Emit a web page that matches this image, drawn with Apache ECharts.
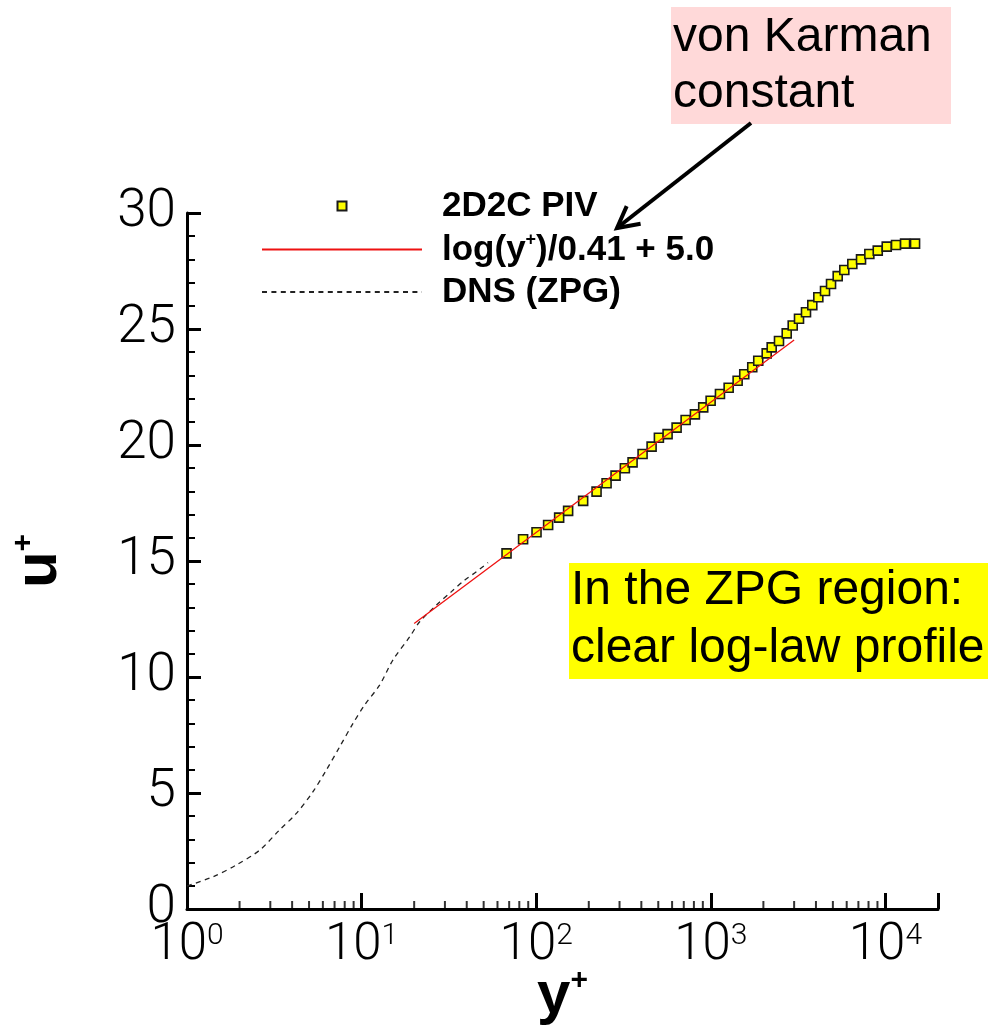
<!DOCTYPE html>
<html>
<head>
<meta charset="utf-8">
<script src="https://cdn.jsdelivr.net/npm/echarts@6/dist/echarts.min.js"></script>
<style>
  html, body { margin: 0; padding: 0; background: #ffffff; }
  #chart { width: 988px; height: 1031px; }
</style>
</head>
<body>
<div id="chart"></div>
<script>
// 2D2C PIV mean velocity profile in the zero-pressure-gradient region
const pivYPlus = [67.6, 84.1, 100.4, 117, 135.3, 152.3, 185.7, 221.6, 252.9, 284.7,
  321.9, 356.3, 406.6, 457.9, 504.2, 565.4, 636.8, 717.2, 810.7, 904.6,
  997.4, 1128, 1265, 1424, 1554, 1727, 1869, 2089, 2231, 2457,
  2720, 2944, 3199, 3508, 3812, 4127, 4508, 4880, 5328, 5814,
  6462, 7248, 8088, 9036, 10172, 11501, 12953, 14779];
const pivUPlus = [15.33, 15.94, 16.24, 16.55, 16.87, 17.16, 17.59, 17.99, 18.35, 18.68,
  19.0, 19.25, 19.61, 19.93, 20.31, 20.47, 20.75, 21.08, 21.32, 21.62,
  21.91, 22.2, 22.47, 22.77, 23.05, 23.35, 23.63, 23.95, 24.21, 24.48,
  24.81, 25.15, 25.44, 25.72, 26.03, 26.37, 26.64, 26.94, 27.28, 27.54,
  27.8, 28.0, 28.23, 28.38, 28.55, 28.62, 28.68, 28.68];

// DNS reference profile (ZPG)
const dnsYPlus = [1, 1.41, 1.92, 2.61, 3.39, 4.23, 5.27, 6.28, 7.5, 8.93,
  10.4, 12.7, 15.1, 18.9, 21.5, 26.8, 32.7, 39, 45.5, 53];
const dnsUPlus = [0.99, 1.39, 1.9, 2.54, 3.41, 4.12, 5.06, 5.99, 7.0, 8.0,
  8.79, 9.66, 10.73, 11.74, 12.38, 13.1, 13.68, 14.18, 14.54, 14.93];

// log(y+)/0.41 + 5.0 is a straight segment on semi-log axes: its two ends
const logLawYPlus = [20, 3000];
const logLawUPlus = [12.31, 24.53];

// axis ticks
const xDecades = [1, 10, 100, 1000, 10000];
const xMinorSteps = [2, 3, 4, 5, 6, 7, 8, 9];
const yTickValues = [0, 5, 10, 15, 20, 25, 30];

const seriesNames = ['2D2C PIV', 'log(y+)/0.41 + 5.0', 'DNS (ZPG)'];

const zip = (xs, ys) => xs.map((x, i) => [x, ys[i]]);

// minor tick marks at 2..9 within each decade of the log axis
const minorTickData = [];
xDecades.slice(0, -1).forEach(d => xMinorSteps.forEach(m => minorTickData.push([d * m, 0])));

const tickFont = 'Roboto';
const labelFont = '"Liberation Sans", Arial, Helvetica, sans-serif';

const chart = echarts.init(document.getElementById('chart'), null, { renderer: 'canvas' });

chart.setOption({
  backgroundColor: '#ffffff',
  animation: false,
  grid: { left: 187, top: 213, bottom: 122, right: 50, containLabel: false, outerBoundsMode: 'none' },
  xAxis: {
    type: 'log',
    logBase: 10,
    min: 1,
    max: 20000,
    name: '{b|y}{s|+}',
    nameLocation: 'middle',
    nameMoveOverlap: false,
    nameGap: 57,
    nameTextStyle: {
      rich: {
        b: { fontFamily: labelFont, fontWeight: 'bold', fontSize: 60, color: '#000', verticalAlign: 'bottom' },
        s: { fontFamily: labelFont, fontWeight: 'bold', fontSize: 30, color: '#000', verticalAlign: 'top' }
      }
    },
    axisLine: { show: true, lineStyle: { color: '#000', width: 3 } },
    axisTick: { show: true, inside: true, length: 16, lineStyle: { color: '#000', width: 3 } },
    splitLine: { show: false },
    axisLabel: {
      margin: 12,
      formatter: function (v) {
        const e = Math.round(Math.log10(v));
        if (Math.abs(v - Math.pow(10, e)) > 1e-6 * v) return '';
        return '{b|10}{s|' + e + '}';
      },
      rich: {
        b: { fontFamily: tickFont, fontWeight: 300, fontSize: 51, color: '#000', verticalAlign: 'bottom' },
        s: { fontFamily: tickFont, fontWeight: 300, fontSize: 30, color: '#000', verticalAlign: 'top' }
      }
    }
  },
  yAxis: {
    type: 'value',
    min: 0,
    max: 30,
    interval: 5,
    name: '{b|u}{s|+}',
    nameLocation: 'middle',
    nameRotate: 90,
    nameMoveOverlap: false,
    nameGap: 118,
    nameTextStyle: {
      rich: {
        b: { fontFamily: labelFont, fontWeight: 'bold', fontSize: 60, color: '#000', verticalAlign: 'bottom' },
        s: { fontFamily: labelFont, fontWeight: 'bold', fontSize: 30, color: '#000', verticalAlign: 'top' }
      }
    },
    axisLine: { show: true, lineStyle: { color: '#000', width: 3 } },
    axisTick: { show: true, inside: true, length: 14, lineStyle: { color: '#000', width: 3 } },
    minorTick: { show: true, splitNumber: 5, length: 8, lineStyle: { color: '#000', width: 2 } },
    splitLine: { show: false },
    axisLabel: {
      margin: 11,
      fontFamily: tickFont,
      fontWeight: 300,
      fontSize: 53,
      color: '#000'
    }
  },
  legend: {
    data: seriesNames.map(n => n === '2D2C PIV'
      ? { name: n, icon: 'path://M0,0L10,0L10,10L0,10Z' }
      : { name: n }),
    orient: 'vertical',
    left: 256,
    top: 184,
    itemWidth: 160,
    itemHeight: 9,
    itemGap: 7.5,
    symbolKeepAspect: true,
    selectedMode: false,
    formatter: function (name) {
      if (name === 'log(y+)/0.41 + 5.0') return '{t|log(y}{s|+}{t|)/0.41 + 5.0}';
      return '{t|' + name + '}';
    },
    textStyle: {
      padding: [0, 0, 0, 15],
      rich: {
        t: { fontFamily: labelFont, fontWeight: 'bold', fontSize: 35, color: '#000', lineHeight: 36, verticalAlign: 'bottom' },
        s: { fontFamily: labelFont, fontWeight: 'bold', fontSize: 18, color: '#000', lineHeight: 36, verticalAlign: 'top' }
      }
    }
  },
  series: [
    {
      name: '2D2C PIV',
      type: 'scatter',
      data: zip(pivYPlus, pivUPlus),
      symbol: 'rect',
      symbolSize: 9,
      itemStyle: { color: '#ffff00', borderColor: '#1a1a1a', borderWidth: 1.6, opacity: 1 },
      z: 3
    },
    {
      name: 'log(y+)/0.41 + 5.0',
      type: 'line',
      data: zip(logLawYPlus, logLawUPlus),
      symbol: 'none',
      lineStyle: { color: '#ee1111', width: 1.3 },
      itemStyle: { color: 'rgba(0,0,0,0)', borderWidth: 0 },
      z: 4
    },
    {
      name: 'DNS (ZPG)',
      type: 'line',
      data: zip(dnsYPlus, dnsUPlus),
      symbol: 'none',
      smooth: 0.3,
      lineStyle: { color: '#222222', width: 1.3, type: [5, 4.4] },
      itemStyle: { color: 'rgba(0,0,0,0)', borderWidth: 0 },
      z: 2
    },
    {
      name: 'minor ticks',
      type: 'scatter',
      data: minorTickData,
      symbol: 'rect',
      symbolSize: [2, 8],
      symbolOffset: [0, -4],
      itemStyle: { color: '#000' },
      clip: false,
      silent: true,
      z: 5
    }
  ],
  graphic: [
    {
      type: 'rect',
      shape: { x: 671, y: 7, width: 280, height: 117 },
      style: { fill: '#ffd9d9' },
      silent: true
    },
    {
      type: 'text',
      x: 673,
      y: 10,
      style: {
        text: 'von Karman\nconstant',
        font: '48px "Liberation Sans", Arial, sans-serif',
        fill: '#000',
        lineHeight: 56,
        verticalAlign: 'top'
      },
      silent: true
    },
    {
      type: 'polyline',
      shape: { points: [[751, 123], [617, 228]] },
      style: { stroke: '#000', lineWidth: 4, fill: null },
      silent: true
    },
    {
      type: 'polyline',
      shape: { points: [[640.6, 223.8], [617, 228], [626.7, 206.1]] },
      style: { stroke: '#000', lineWidth: 4, fill: null, lineJoin: 'miter' },
      silent: true
    },
    {
      type: 'rect',
      shape: { x: 569, y: 563, width: 419, height: 116 },
      style: { fill: '#ffff00' },
      silent: true
    },
    {
      type: 'text',
      x: 571,
      y: 562,
      style: {
        text: 'In the ZPG region:\nclear log-law profile',
        font: '48px "Liberation Sans", Arial, sans-serif',
        fill: '#000',
        lineHeight: 58,
        verticalAlign: 'top'
      },
      silent: true
    }
  ]
});
</script>
</body>
</html>
